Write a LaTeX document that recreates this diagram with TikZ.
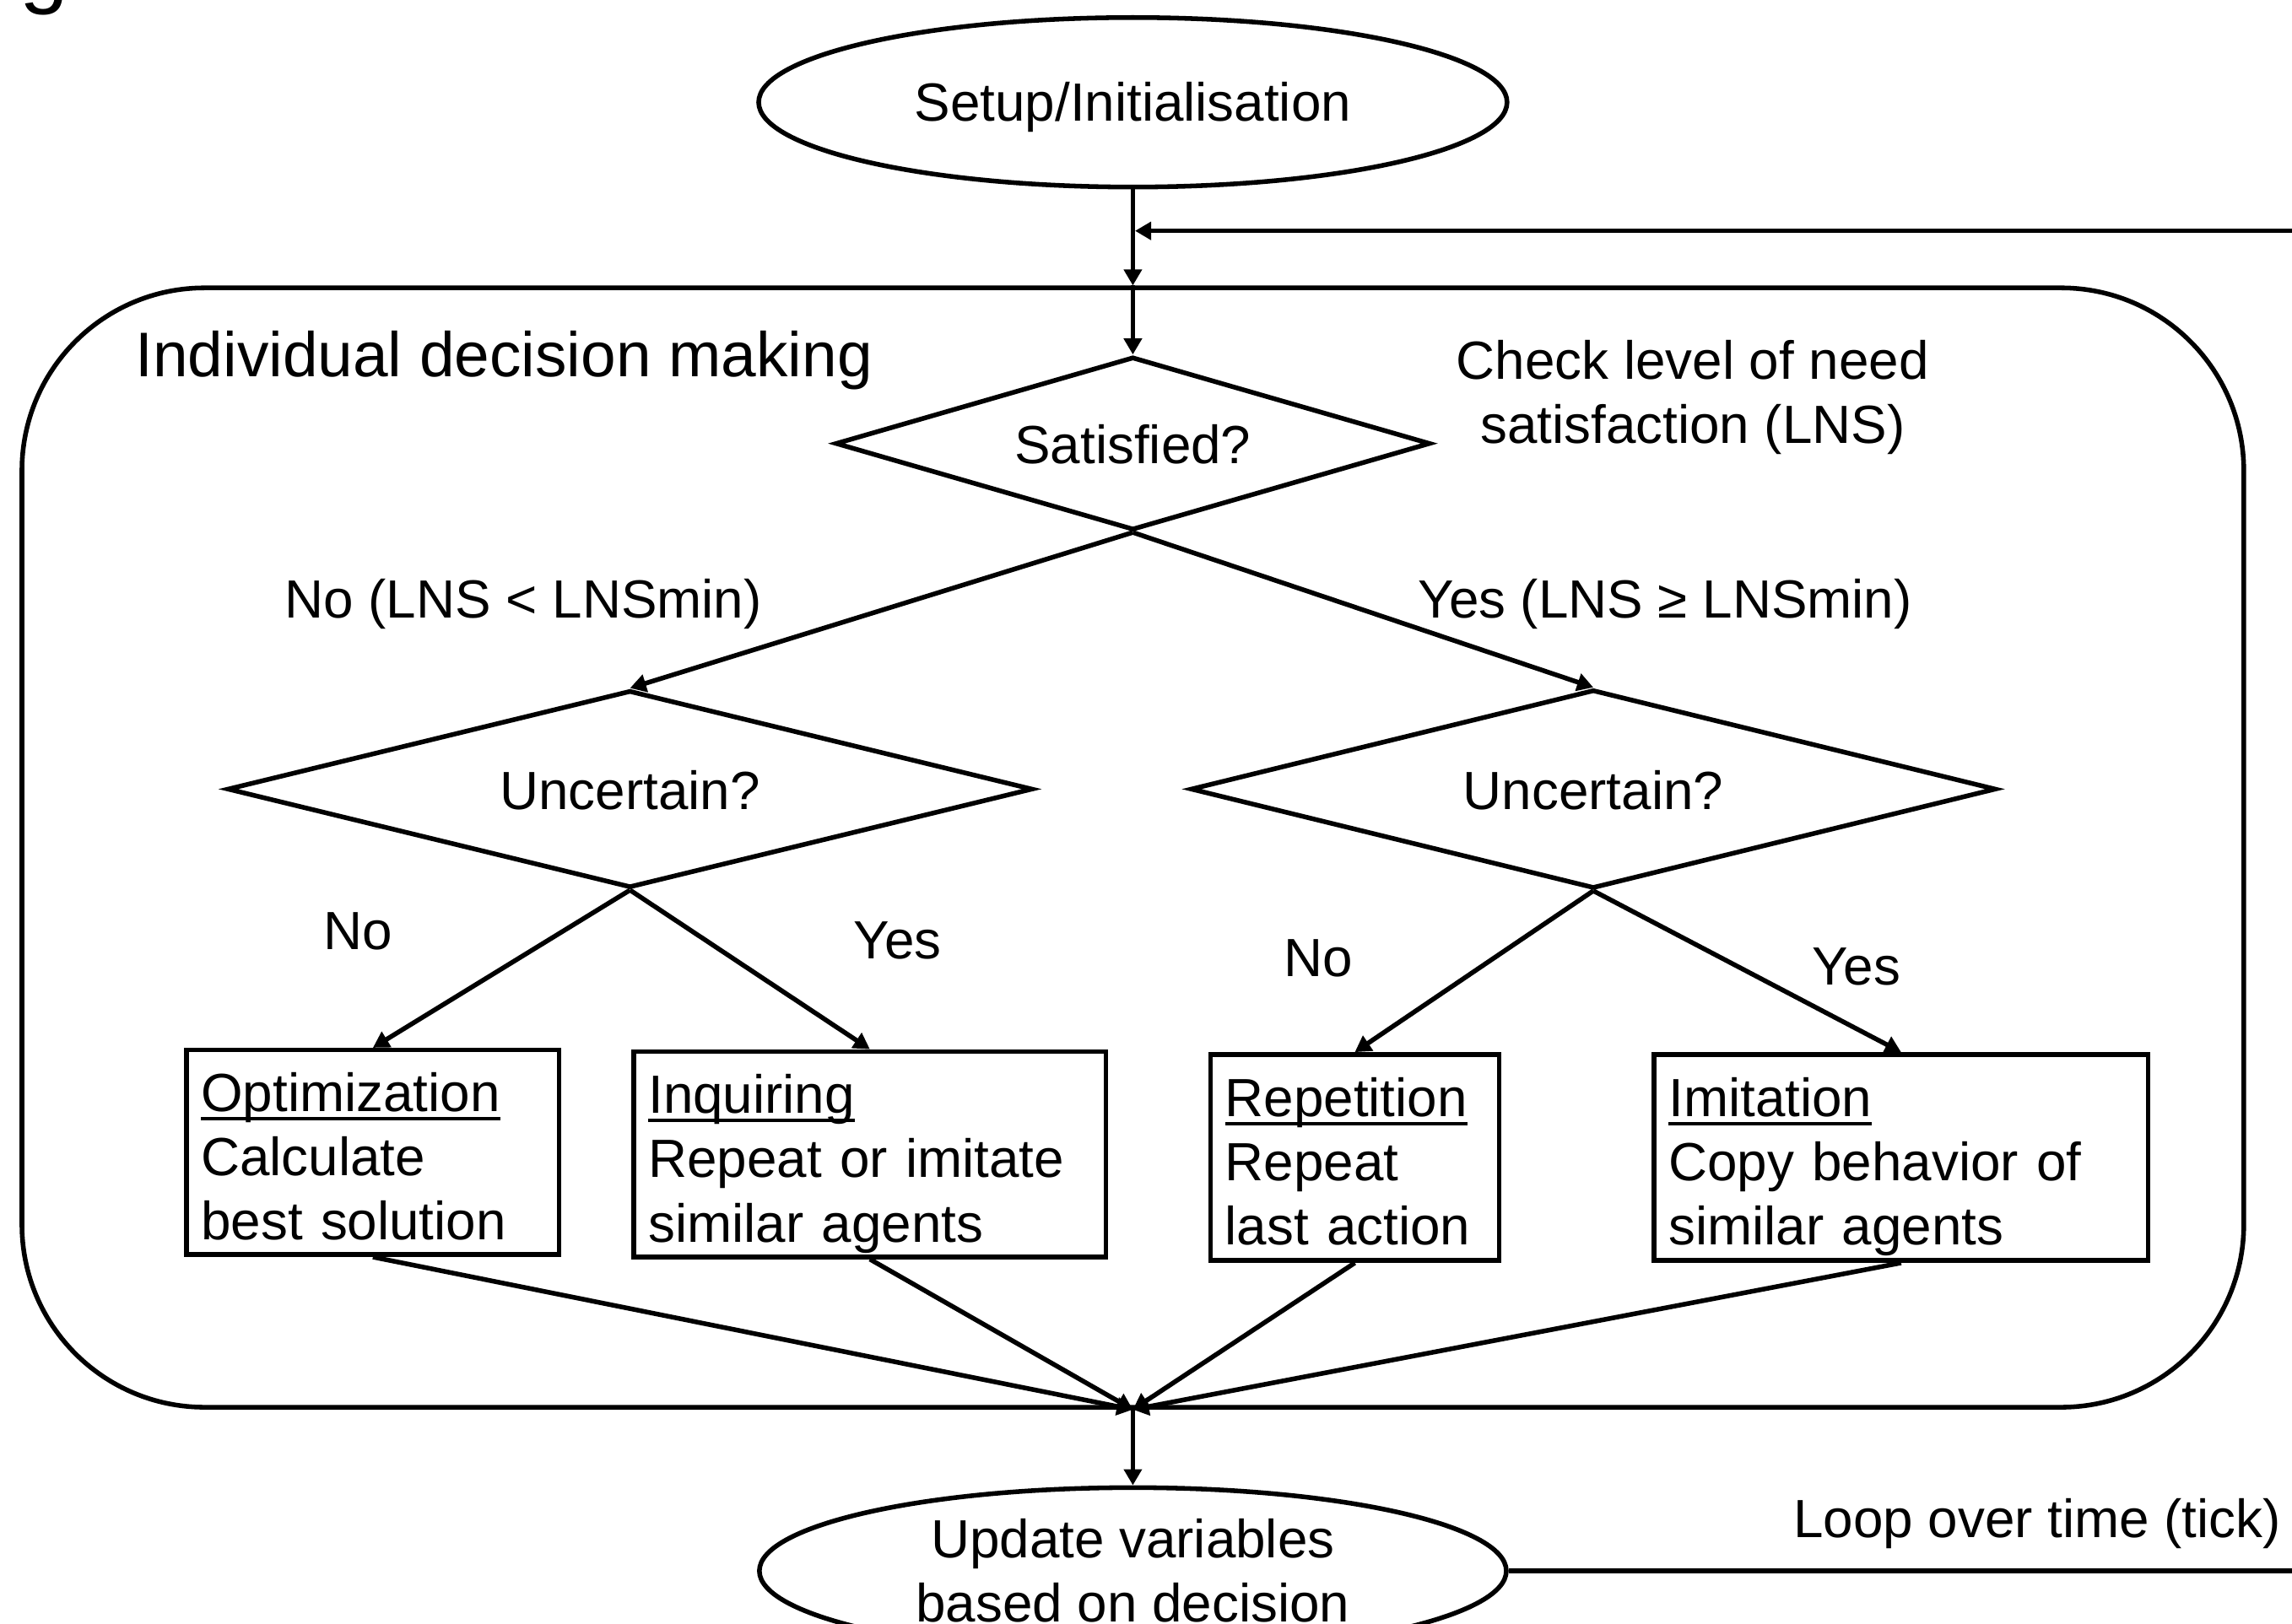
\documentclass[tikz,border=0pt]{standalone}
\usepackage{fontspec}
\setmainfont{Liberation Sans}
\usetikzlibrary{shapes.geometric,arrows.meta,calc}
\newsavebox{\ulbox}
\newcommand{\myul}[1]{\sbox{\ulbox}{#1}\rlap{\rule[-3.05pt]{\wd\ulbox}{1.1pt}}\usebox{\ulbox}}
\newcommand{\topstrut}{\rule{0pt}{20pt}}
\newcommand{\botstrut}{\rule[-4pt]{0pt}{4pt}}
\begin{document}
\begin{tikzpicture}[x=0.5pt,y=-0.5pt, line width=1.6pt,
  font=\fontsize{18.4}{22}\selectfont,
  conn/.style={-{Triangle[length=5.5pt,width=6pt]}},
  term/.style={draw, ellipse, inner sep=0pt},
  decision/.style={draw, diamond, inner sep=0pt, text height=14pt, text depth=0pt},
  actbox/.style={draw, rectangle, inner xsep=5pt, inner ysep=0pt, align=left, anchor=north west},
  lbl/.style={inner sep=0pt, anchor=base}]
\useasboundingbox (0,0) rectangle (1568,1111);

% partial letter at top-left edge
\node[lbl, anchor=base west, font=\fontsize{30}{36}\selectfont] (frag) at (12,-2) {g};

% frame
\node[draw, rectangle, rounded corners=62.5pt, minimum width=760pt, minimum height=383pt, inner sep=0pt] (frame) at (775,580) {};
\node[lbl, anchor=base west, font=\fontsize{21.6}{26}\selectfont] (title) at (91,258) {Individual decision making};

% terminals
\node[term, minimum width=256pt, minimum height=58pt, text height=13.4pt, text depth=0.7pt] (setup) at (775,70) {Setup/Initialisation};
\node[term, minimum width=255.5pt, minimum height=57pt, align=center] (update) at (775,1075) {Update variables\\based on decision};

% decisions
\node[decision, shape aspect=3.45, minimum width=203.5pt, minimum height=59.25pt] (sat) at (775,303.5) {Satisfied?};
\node[decision, shape aspect=4.08, minimum width=275.5pt, minimum height=67.5pt] (uncL) at (431,540) {Uncertain?};
\node[decision, shape aspect=4.08, minimum width=275.5pt, minimum height=68pt] (uncR) at (1090,540) {Uncertain?};

% action boxes
\node[actbox, minimum width=127.5pt, minimum height=70pt, text width=117.5pt] (opt) at (126,717)
  {\topstrut\myul{Optimization}\\Calculate\\best solution\botstrut};
\node[actbox, minimum width=161.5pt, minimum height=70.25pt, text width=151.5pt] (inq) at (432,718)
  {\topstrut\myul{Inquiring}\\Repeat or imitate\\similar agents\botstrut};
\node[actbox, minimum width=98.75pt, minimum height=70.5pt, text width=88.75pt] (rep) at (826.5,720)
  {\topstrut\myul{Repetition}\\Repeat\\last action\botstrut};
\node[actbox, minimum width=169pt, minimum height=70.5pt, text width=159pt] (imi) at (1130,720)
  {\topstrut\myul{Imitation}\\Copy behavior of\\similar agents\botstrut};

% labels
\node[inner sep=0pt, align=center, anchor=north] (chk) at (1158,231) {Check level of need\\satisfaction (LNS)};
\node[lbl] (lno) at (358,423) {No (LNS < LNSmin)};
\node[lbl] (lyes) at (1139,423) {Yes (LNS ≥ LNSmin)};
\node[lbl] (lno2) at (245,650) {No};
\node[lbl] (lyes2) at (614,656) {Yes};
\node[lbl] (lno3) at (902,668) {No};
\node[lbl] (lyes3) at (1270,674) {Yes};
\node[lbl, anchor=base east] (loop) at (1562,1052) {Loop over time (tick)};

% connectors
\draw[conn] (setup.south) -- (frame.north);
\draw[conn] (frame.north) -- (sat.north);
\draw[conn] (sat.south) -- (uncL.north);
\draw[conn] (sat.south) -- (uncR.north);
\draw[conn] (uncL.south) -- (opt.north);
\draw[conn] (uncL.south) -- (inq.north);
\draw[conn] (uncR.south) -- (rep.north);
\draw[conn] (uncR.south) -- (imi.north);
\draw[conn] (opt.south) -- (frame.south);
\draw[conn] (inq.south) -- (frame.south);
\draw[conn] (rep.south) -- (frame.south);
\draw[conn] (imi.south) -- (frame.south);
\draw[conn] (frame.south) -- (update.north);

\coordinate (loopA) at (1590,1075);
\coordinate (loopB) at (1590,158);
\coordinate (jn) at (776.5,158);
\draw[conn] (update.east) -- (loopA) -- (loopB) -- (jn);
\end{tikzpicture}
\end{document}
